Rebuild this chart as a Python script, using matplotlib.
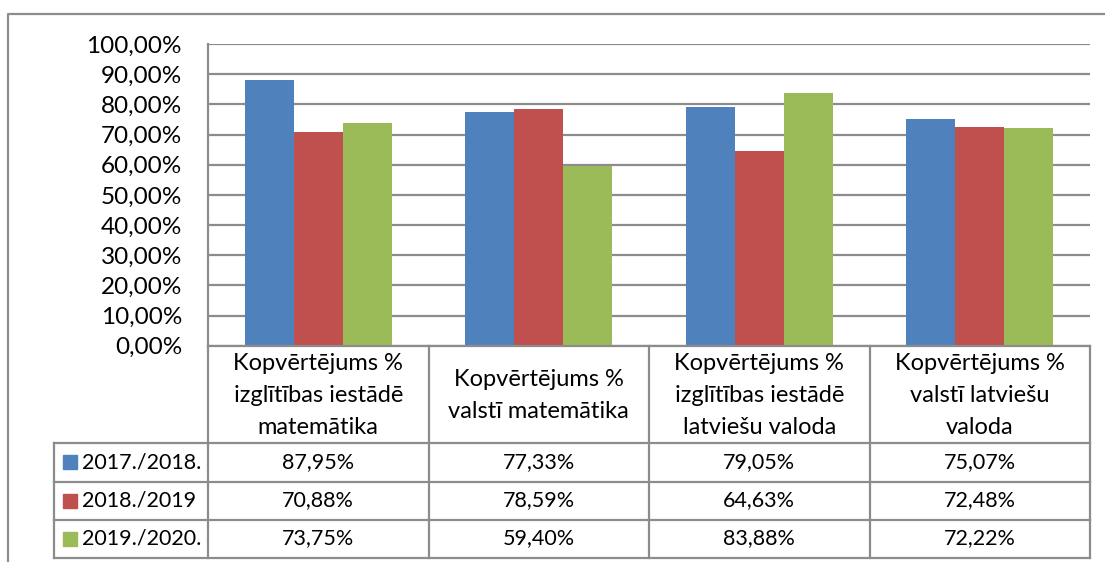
import matplotlib
matplotlib.use("Agg")
import matplotlib.pyplot as plt
from matplotlib.ticker import FuncFormatter, MultipleLocator
from matplotlib.patches import Rectangle

plt.rcParams['font.family'] = ['Lato', 'DejaVu Sans']

categories = [
    "Kopvērtējums %\nizglītības iestādē\nmatemātika",
    "Kopvērtējums %\nvalstī matemātika",
    "Kopvērtējums %\nizglītības iestādē\nlatviešu valoda",
    "Kopvērtējums %\nvalstī latviešu\nvaloda",
]
series_names = ["2017./2018.", "2018./2019", "2019./2020."]
v_2017 = [87.95, 77.33, 79.05, 75.07]
v_2018 = [70.88, 78.59, 64.63, 72.48]
v_2019 = [73.75, 59.40, 83.88, 72.22]
values = [v_2017, v_2018, v_2019]
colors = ["#4F81BD", "#C0504D", "#9BBB59"]

W, H = 1105, 562
grid_c = "#8c8c8c"

fig = plt.figure(figsize=(W / 100, H / 100), dpi=100)

# plot area in pixel terms
px_l, px_r, px_t, px_b = 208, 1090, 44, 345.7
ax = fig.add_axes([px_l / W, (H - px_b) / H, (px_r - px_l) / W, (px_b - px_t) / H])

bw = 0.222
for j, vals in enumerate(values):
    xs = [i + (j - 1) * bw for i in range(len(categories))]
    ax.bar(xs, vals, width=bw, color=colors[j], zorder=3)

ax.set_xlim(-0.5, len(categories) - 0.5)
ax.set_ylim(0, 100)
ax.yaxis.set_major_locator(MultipleLocator(10))
ax.yaxis.set_major_formatter(FuncFormatter(lambda v, p: f"{v:.2f}%".replace(".", ",")))
ax.grid(axis="y", color=grid_c, lw=1.6, zorder=0)
ax.set_xticks([])
for s in ["top", "right", "bottom"]:
    ax.spines[s].set_visible(False)
ax.spines["left"].set_color(grid_c)
ax.spines["left"].set_linewidth(1.6)
ax.tick_params(axis="y", length=0, pad=18.7, labelsize=17.5, labelcolor="black")

# overlay for data table and chart border (pixel coordinates)
ov = fig.add_axes([0, 0, 1, 1], zorder=5)
ov.set_xlim(0, W)
ov.set_ylim(H, 0)
ov.axis("off")
ov.patch.set_alpha(0)

# outer chart border
ov.plot([8, 8, W + 5], [H + 5, 14, 14], color=grid_c, lw=1.6, clip_on=False)

col_edges = [px_l + k * (px_r - px_l) / len(categories) for k in range(len(categories) + 1)]
leg_l = 54
head_t, head_b = px_b, 443
row_edges = [443, 481.5, 519.5, 557.5]

lw = 1.6
# header block lines
ov.plot([px_l, px_r], [head_t, head_t], color=grid_c, lw=lw)
for x in col_edges:
    ov.plot([x, x], [head_t, row_edges[-1]], color=grid_c, lw=lw)
for y in row_edges:
    ov.plot([leg_l, px_r], [y, y], color=grid_c, lw=lw)
ov.plot([leg_l, leg_l], [row_edges[0], row_edges[-1]], color=grid_c, lw=lw)

fs = 15.5
for i, cat in enumerate(categories):
    cx = (col_edges[i] + col_edges[i + 1]) / 2
    ov.text(cx, (head_t + head_b) / 2 + 1, cat, ha="center", va="center",
            fontsize=17, linespacing=1.65)

for j, name in enumerate(series_names):
    y0, y1 = row_edges[j], row_edges[j + 1]
    cy = (y0 + y1) / 2
    ov.add_patch(Rectangle((63, cy - 7), 14, 14, color=colors[j]))
    ov.text(82, cy, name, ha="left", va="center", fontsize=fs)
    for i in range(len(categories)):
        cx = (col_edges[i] + col_edges[i + 1]) / 2
        ov.text(cx, cy, f"{values[j][i]:.2f}%".replace(".", ","),
                ha="center", va="center", fontsize=fs)

fig.savefig("out.png", dpi=100)
